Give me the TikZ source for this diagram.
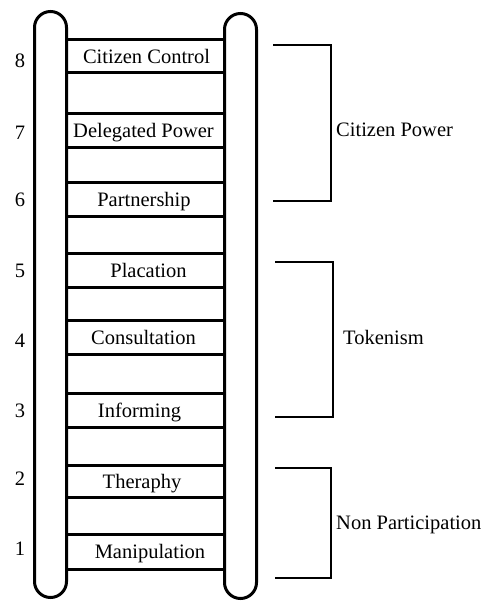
\documentclass[tikz,border=0pt]{standalone}
\usepackage{fontspec}
\setmainfont{Liberation Serif}
\begin{document}
\begin{tikzpicture}[x=1pt,y=-1pt,
  rail/.style={draw, line width=3pt, rounded corners=16pt, minimum width=32pt, inner sep=0pt},
  rung/.style={line width=3pt},
  brack/.style={line width=2.6pt},
  lbl/.style={font=\fontsize{20.5}{24}\selectfont, anchor=base, inner sep=0pt},
  side/.style={font=\fontsize{20.5}{24}\selectfont, anchor=base west, inner sep=0pt}]
\useasboundingbox (0,0) rectangle (486,601);
\node[rail, minimum height=586pt] (lrail) at (50.5,304.5) {};
\node[rail, minimum height=585pt] (rrail) at (240.5,306) {};
\foreach \y [count=\i] in {40,73,114,148,182.5,216.5,253,287,320,354,393,427,465,497,534,569}
  \draw[rung] (lrail.east |- 0,\y) -- (rrail.west |- 0,\y);
% box labels
\node[lbl] (l8) at (146.5,63.5) {Citizen Control};
\node[lbl] (l7) at (143.5,138) {Delegated Power};
\node[lbl] (l6) at (144,206.5) {Partnership};
\node[lbl] (l5) at (148.5,277) {Placation};
\node[lbl] (l4) at (143.5,344) {Consultation};
\node[lbl] (l3) at (139.5,417) {Informing};
\node[lbl] (l2) at (142,488) {Theraphy};
\node[lbl] (l1) at (150,558.5) {Manipulation};
% numbers
\node[lbl] (n8) at (20,67.5) {8};
\node[lbl] (n7) at (20,140) {7};
\node[lbl] (n6) at (20,207) {6};
\node[lbl] (n5) at (20,277) {5};
\node[lbl] (n4) at (20,347) {4};
\node[lbl] (n3) at (20,417) {3};
\node[lbl] (n2) at (20,485) {2};
\node[lbl] (n1) at (20,555) {1};
% brackets
\draw[brack] (273,45) -- (331,45) -- (331,201) -- (273,201);
\draw[brack] (275,262) -- (333,262) -- (333,417) -- (275,417);
\draw[brack] (275,468) -- (331,468) -- (331,578) -- (275,578);
\node[side] (cp) at (336,137) {Citizen Power};
\node[side] (tk) at (343,344) {Tokenism};
\node[side] (np) at (336,529) {Non Participation};
\end{tikzpicture}
\end{document}
